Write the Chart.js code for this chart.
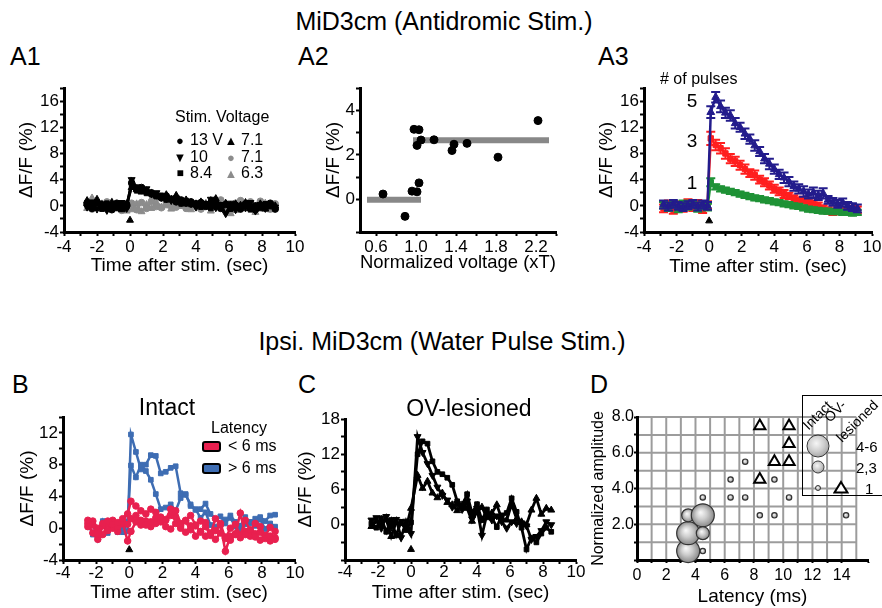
<!DOCTYPE html>
<html>
<head>
<meta charset="utf-8">
<script src="https://cdn.jsdelivr.net/npm/chart.js@4.4.1/dist/chart.umd.min.js"></script>
<style>
html, body { margin: 0; padding: 0; background: #fff; }
#fig { position: relative; width: 882px; height: 608px; overflow: hidden;
       font-family: "Liberation Sans", Arial, Helvetica, sans-serif; color: #000; }
#fig canvas { position: absolute; }
.t { position: absolute; line-height: 1; white-space: nowrap; z-index: 2; }
.c { transform: translate(-50%, -50%); }
.l { transform: translate(0, -50%); }
.r45 { transform: translate(-50%, -50%) rotate(-45deg); }
.sw { position: absolute; width: 19px; height: 11px; border: 2px solid #000; border-radius: 3px; box-sizing: border-box; z-index: 2; }
.bub { position: absolute; border-radius: 50%; border: 1.2px solid #333; box-sizing: border-box; z-index: 2;
       transform: translate(-50%, -50%);
       background: radial-gradient(circle at 42% 38%, #f6f6f6 0%, #cdcdcd 45%, #8a8a8a 100%); }
</style>
</head>
<body>
<div id="fig">
  <div class="t c" style="left:444px;top:21px;font-size:25px">MiD3cm (Antidromic Stim.)</div>
  <div class="t c" style="left:442px;top:341px;font-size:25px">Ipsi. MiD3cm (Water Pulse Stim.)</div>

  <div class="t l" style="left:10px;top:56px;font-size:25px">A1</div>
  <div class="t l" style="left:298px;top:56px;font-size:25px">A2</div>
  <div class="t l" style="left:598px;top:56px;font-size:25px">A3</div>
  <div class="t l" style="left:12px;top:384px;font-size:25px">B</div>
  <div class="t l" style="left:298px;top:384px;font-size:25px">C</div>
  <div class="t l" style="left:590px;top:384px;font-size:25px">D</div>

  <!-- A1 legend -->
  <div class="t l" style="left:175px;top:117px;font-size:16px">Stim. Voltage</div>
  <div class="t c" style="left:180px;top:140px;font-size:13px">●</div>
  <div class="t l" style="left:190px;top:140px;font-size:16px">13 V</div>
  <div class="t c" style="left:180px;top:157px;font-size:13px">▼</div>
  <div class="t l" style="left:190px;top:157px;font-size:16px">10</div>
  <div class="t c" style="left:180px;top:173px;font-size:12px">■</div>
  <div class="t l" style="left:190px;top:173px;font-size:16px">8.4</div>
  <div class="t c" style="left:231px;top:140px;font-size:13px">▲</div>
  <div class="t l" style="left:241px;top:140px;font-size:16px">7.1</div>
  <div class="t c" style="left:231px;top:157px;font-size:13px;color:#8c8c8c">●</div>
  <div class="t l" style="left:241px;top:157px;font-size:16px">7.1</div>
  <div class="t c" style="left:231px;top:173px;font-size:13px;color:#8c8c8c">▲</div>
  <div class="t l" style="left:241px;top:173px;font-size:16px">6.3</div>

  <!-- A3 labels -->
  <div class="t l" style="left:660px;top:79px;font-size:16px"># of pulses</div>
  <div class="t c" style="left:692px;top:100px;font-size:19px">5</div>
  <div class="t c" style="left:692px;top:140px;font-size:19px">3</div>
  <div class="t c" style="left:692px;top:182px;font-size:19px">1</div>

  <!-- B labels -->
  <div class="t c" style="left:167px;top:407px;font-size:23px">Intact</div>
  <div class="t c" style="left:239px;top:428px;font-size:16px">Latency</div>
  <div class="sw" style="left:202px;top:441px;background:#e8204f"></div>
  <div class="t l" style="left:228px;top:446px;font-size:16px">&lt; 6 ms</div>
  <div class="sw" style="left:202px;top:463px;background:#3e6db3"></div>
  <div class="t l" style="left:228px;top:468px;font-size:16px">&gt; 6 ms</div>

  <!-- C label -->
  <div class="t c" style="left:469px;top:408px;font-size:23px">OV-lesioned</div>

  <!-- D legend -->
  <div style="position:absolute;left:802px;top:395px;width:100px;height:101px;border:1.5px solid #000;box-sizing:border-box;z-index:2"></div>
  <div class="t r45" style="left:817px;top:415px;font-size:14px">Intact</div>
  <div class="t r45" style="left:835px;top:411px;font-size:14px">OV-</div>
  <div class="t r45" style="left:857px;top:421px;font-size:14px">lesioned</div>
  <div class="bub" style="left:818px;top:446px;width:23px;height:23px"></div>
  <div class="bub" style="left:818px;top:467px;width:13px;height:13px"></div>
  <div class="bub" style="left:818px;top:488px;width:6px;height:6px"></div>
  <svg class="t c" style="left:841px;top:487px" width="16" height="14"><polygon points="8,2 14.5,12.5 1.5,12.5" fill="#fff" stroke="#000" stroke-width="2"/></svg>
  <div class="t l" style="left:856px;top:446px;font-size:15px">4-6</div>
  <div class="t l" style="left:856px;top:467px;font-size:15px">2,3</div>
  <div class="t l" style="left:865px;top:488px;font-size:15px">1</div>
</div>

<script>
// ---------- data ----------
const timeTicks = [-4, -2, 0, 2, 4, 6, 8, 10];
const stimTime = [0];

// A1: traces at different stimulus voltages
const tA1 = [-2.6,-2.3,-2.0,-1.7,-1.4,-1.1,-0.8,-0.5,-0.2,
  0.1,0.4,0.7,1.0,1.3,1.6,1.9,2.2,2.5,2.8,
  3.1,3.4,3.7,4.0,4.3,4.6,4.9,5.2,5.5,5.8,
  6.1,6.4,6.7,7.0,7.3,7.6,7.9,8.2,8.5,8.8];
const a1V13 = [0.3,-0.4,0.5,-0.2,0.1,-0.6,0.4,-0.3,0.2,
  3.5,2.6,2.8,2.2,2.0,1.6,1.2,1.5,1.0,0.6,
  0.9,0.4,0.6,0.2,0.5,-0.1,0.3,0.0,-0.4,0.2,
  -0.3,0.1,-0.5,0.3,-0.2,-0.6,0.1,-0.3,0.4,-0.5];
const a1V10 = [-0.2,0.6,-0.5,0.3,-0.7,0.2,-0.1,0.5,-0.4,
  4.0,2.9,2.4,2.6,1.8,2.0,1.3,1.1,0.8,1.2,
  0.5,0.7,0.3,-0.2,0.4,0.1,1.0,-0.3,0.2,-1.2,
  0.4,-0.6,0.0,-0.3,0.5,-0.8,0.2,-0.4,0.1,-0.2];
const a1V84 = [0.5,0.0,0.3,-0.5,0.4,-0.2,-0.4,0.1,-0.1,
  3.0,2.3,2.7,1.9,1.7,1.4,1.6,0.9,1.1,0.7,
  0.3,0.8,0.2,0.4,-0.2,0.3,-0.4,0.5,-0.1,0.2,
  -0.5,0.0,-0.3,0.2,-0.6,0.1,-0.4,0.3,-0.1,-0.3];
const a1V71 = [0.8,-0.3,1.0,0.2,-0.4,0.5,0.0,-0.6,0.3,
  2.8,2.5,2.1,2.3,1.9,1.5,1.3,1.7,1.0,1.6,
  0.6,0.9,0.5,0.3,0.6,0.2,0.8,1.1,0.0,0.4,
  -0.2,0.3,0.1,0.5,-0.4,-0.1,0.3,-0.5,0.2,0.0];
const a1V71g = [0.2,-0.5,0.4,-0.3,0.6,-0.2,0.3,-0.7,-0.1,
  0.4,-0.6,0.5,-0.4,0.7,-0.1,-0.3,0.4,0.2,-0.2,
  0.1,-0.4,0.3,-0.1,-0.5,0.2,-0.3,0.3,0.9,-0.2,
  -0.6,0.4,0.8,-0.3,0.6,-0.4,0.7,0.1,-0.5,0.3];
const a1V63g = [-0.4,1.2,-0.2,0.3,-0.5,0.6,-0.3,0.2,-0.8,
  -0.6,0.3,-0.9,0.2,-0.4,0.5,-0.2,0.0,-0.5,0.3,
  -0.1,0.2,-0.6,0.1,-0.3,0.4,-0.8,-0.2,0.3,-0.5,
  -1.2,-0.7,0.2,-0.4,0.0,-1.0,-0.2,0.4,-0.6,-0.3];
const a1Arrow = [-2.2];
const a1YTicks = [-4, 0, 4, 8, 12, 16];

// A2: peak response vs normalized voltage
const a2X = [0.67,0.89,0.96,1.01,1.03,0.98,1.03,1.01,1.05,1.18,1.36,1.38,1.51,1.82,2.22];
const a2Y = [0.25,-0.75,0.38,0.35,0.75,3.15,3.13,2.43,2.67,2.68,2.20,2.48,2.52,1.90,3.54];
const a2MeanX0 = [0.51, 0.97];
const a2MeanX1 = [1.05, 2.33];
const a2MeanY = [0.0, 2.66];
const a2XTickVals = [0.6,0.8,1.0,1.2,1.4,1.6,1.8,2.0,2.2,2.4];
const a2XTicks = [0.6, 1.0, 1.4, 1.8, 2.2];
const a2YTicks = [0, 2, 4];

// A3: mean traces for 1, 3, 5 pulses (+ error)
const tA3 = [-2.8,-2.5,-2.2,-1.9,-1.6,-1.3,-1.0,-0.7,-0.4,-0.1,
  0.1,0.4,0.7,1.0,1.3,1.6,1.9,2.2,2.5,2.8,
  3.1,3.4,3.7,4.0,4.3,4.6,4.9,5.2,5.5,5.8,
  6.1,6.4,6.7,7.0,7.3,7.6,7.9,8.2,8.5,8.8,
  9.1];
const a3P5 = [0.2,-0.1,0.3,0.0,-0.2,0.1,0.3,-0.1,0.2,0.0,
  14.3,16.6,15.2,14.2,13.8,12.6,12.0,11.0,10.2,9.2,
  8.3,7.2,6.4,5.6,4.8,4.3,3.7,3.0,2.6,2.2,
  1.8,2.0,1.6,1.9,0.9,0.6,0.3,0.5,0.0,-0.2,
  -0.4];
const a3P3 = [-0.4,0.2,-0.6,0.1,-0.3,0.4,-0.2,0.3,-0.5,0.1,
  10.3,9.3,8.8,8.0,7.2,6.8,6.2,5.6,5.0,4.7,
  4.0,3.6,3.1,2.6,2.2,1.8,1.5,1.1,0.8,0.9,
  0.6,0.3,0.0,-0.4,-0.7,-0.9,-0.6,-0.8,-0.7,-0.5,
  -0.6];
const a3P1 = [0.1,-0.3,0.2,-0.5,0.3,-0.1,0.2,-0.4,0.0,-0.2,
  3.6,2.9,2.6,2.4,2.2,2.0,1.8,1.6,1.4,1.2,
  1.1,0.9,0.8,0.6,0.5,0.3,0.2,0.0,-0.1,-0.3,
  -0.5,-0.6,-0.7,-0.8,-0.8,-0.9,-0.9,-1.0,-1.0,-1.1,
  -1.0];
const a3E5 = [0.6,0.6,0.6,0.6,0.6,0.6,0.6,0.6,0.6,0.6,
  0.9,0.8,0.9,0.8,0.8,0.8,0.7,0.8,0.7,0.8,
  0.7,0.7,0.8,0.7,0.7,0.8,0.7,0.7,0.7,0.8,
  0.7,0.8,0.7,0.8,0.6,0.6,0.6,0.6,0.6,0.6,
  0.6];
const a3E3 = [0.6,0.6,0.6,0.6,0.6,0.6,0.6,0.6,0.6,0.6,
  1.0,0.8,0.8,0.8,0.7,0.7,0.7,0.7,0.6,0.7,
  0.6,0.6,0.6,0.6,0.6,0.6,0.5,0.5,0.5,0.5,
  0.5,0.5,0.5,0.5,0.5,0.5,0.5,0.5,0.5,0.5,
  0.5];
const a3E1 = [0.5,0.5,0.5,0.5,0.5,0.5,0.5,0.5,0.5,0.5,
  0.6,0.4,0.4,0.4,0.4,0.4,0.4,0.4,0.4,0.4,
  0.4,0.4,0.4,0.4,0.4,0.4,0.4,0.4,0.4,0.4,
  0.4,0.4,0.4,0.4,0.4,0.4,0.4,0.4,0.4,0.4,
  0.4];
const a3Arrow = [-2.3];

// B: intact, short vs long latency
const tB = [-2.5,-2.2,-1.9,-1.6,-1.3,-1.0,-0.7,-0.4,-0.1,
  0.1,0.4,0.7,1.0,1.3,1.6,1.9,2.2,2.5,2.8,
  3.1,3.4,3.7,4.0,4.3,4.6,4.9,5.2,5.5,5.8,
  6.1,6.4,6.7,7.0,7.3,7.6,7.9,8.2,8.5,8.8];
const bLong1 = [0.6,-0.8,-1.2,0.4,-0.3,0.8,-0.5,0.2,-0.4,
  11.8,9.6,7.4,8.0,9.2,9.1,6.9,7.1,7.6,7.8,
  4.4,4.2,3.0,2.3,2.4,3.1,1.8,1.2,1.5,0.6,
  1.6,0.8,0.3,1.4,0.6,1.2,1.4,0.9,1.6,1.7];
const bLong2 = [0.2,0.5,-1.4,0.9,-0.6,0.3,0.6,-0.5,0.8,
  7.9,6.4,8.0,7.2,6.1,4.3,2.4,2.6,3.0,2.2,
  3.8,4.3,2.8,2.4,1.3,2.0,0.4,0.2,0.6,1.1,
  1.3,0.2,-0.2,0.5,0.8,0.3,1.1,-0.1,0.6,0.2];
const bShort1 = [1.0,0.4,-0.8,0.6,0.9,0.5,0.7,1.2,1.8,
  3.4,2.8,2.2,1.8,2.4,2.0,1.4,1.0,1.6,2.2,
  0.6,0.9,-0.2,0.3,-0.5,-1.0,-0.6,-0.3,0.4,-2.9,
  -1.0,-0.7,1.9,-0.8,-0.2,-1.1,-0.5,-1.3,-1.0,-1.4];
const bShort2 = [0.6,-0.6,-1.4,0.3,-0.3,1.0,0.2,0.8,0.5,
  1.2,1.6,1.0,0.4,0.8,1.3,1.0,1.1,2.4,1.4,
  0.3,1.0,1.6,0.4,0.9,0.7,-0.8,1.2,0.6,-1.3,
  0.0,0.5,-0.9,1.0,-0.3,0.6,0.2,-1.0,0.1,-0.4];
const bShort3 = [0.2,0.9,0.0,-0.8,0.5,0.0,-0.4,0.6,-1.6,
  -0.4,0.8,0.4,0.9,0.2,0.6,0.8,0.2,-0.1,0.6,
  0.0,-0.5,0.3,-1.0,-0.4,0.2,-0.9,-1.4,-0.6,-1.1,
  -1.5,-0.8,-1.2,-0.4,-1.0,-0.7,-1.5,-0.9,-1.6,-1.2];
const bArrow = [-2.7];
const bYTicks = [-4, 0, 4, 8, 12];

// C: OV-lesioned
const tC = [-2.4,-2.1,-1.8,-1.5,-1.2,-0.9,-0.6,-0.3,0.0,
  0.4,0.7,1.0,1.3,1.6,1.9,2.2,2.5,2.8,3.1,
  3.4,3.7,4.0,4.3,4.6,4.9,5.2,5.5,5.8,6.1,
  6.4,6.7,7.0,7.3,7.6,7.9,8.2,8.5];
const cTr1 = [0.8,1.2,-0.6,1.4,-0.4,0.9,-2.2,0.6,-1.5,
  15.0,12.3,10.4,8.4,6.4,5.0,4.2,3.0,3.6,2.6,
  4.0,1.0,2.8,-1.8,1.8,0.8,1.5,0.5,-0.6,0.5,
  0.2,0.3,-0.2,-2.5,-2.0,-1.0,0.5,0.0];
const cTr2 = [0.2,-0.5,1.1,-1.2,0.8,-1.8,0.5,-0.9,0.4,
  12.0,14.2,13.8,10.8,9.0,8.6,8.0,6.8,4.0,3.2,
  5.2,2.0,3.5,0.8,2.6,1.2,-0.4,1.6,2.0,4.5,
  2.2,-0.5,-4.2,-2.2,-3.0,-1.5,-0.5,-1.2];
const cTr3 = [-0.3,0.6,0.0,0.9,-2.0,0.4,0.2,-0.6,2.8,
  8.4,6.2,7.4,5.4,4.6,5.4,3.8,3.4,2.4,3.4,
  2.8,0.6,2.2,3.0,1.2,2.0,3.4,1.0,0.8,3.5,
  1.0,0.5,0.0,2.5,4.5,1.8,2.8,2.5];
const cArrow = [-4.2];
const cYTicks = [0, 6, 12, 18];

// D: latency vs normalized amplitude
const dIntX = [3.5,3.5,3.5,4.5,4.5,4.5,4.5,6.4,6.4,7.4,7.4,8.4,9.4,9.4,10.4,14.3];
const dIntY = [0.5,1.5,2.5,2.5,1.5,0.5,3.5,3.5,4.5,3.5,5.5,2.5,2.5,4.5,3.5,2.5];
const dIntN = ['4-6','4-6','2,3','4-6','2,3','1','1','1','1','1','1','1','1','1','1','1'];
const dOvX = [8.4,10.4,10.4,9.4,10.4,8.4];
const dOvY = [7.5,7.5,6.5,5.5,5.5,4.5];
const dGridX = [1,2,3,4,5,6,7,8,9,10,11,12,13,14,15];
const dGridY = [1,2,3,4,5,6,7,8];
const dXTicks = [0,2,4,6,8,10,12,14];
const dYTicks = [2,4,6,8];

// ---------- helpers ----------
Chart.defaults.font.family = '"Liberation Sans", Arial, Helvetica, sans-serif';
Chart.defaults.color = '#000';

const fig = document.getElementById('fig');
const bubbleR = {'4-6': 11.5, '2,3': 6.5, '1': 2.7};

function tickLabel(v, list, dec) {
  const hit = list.some(l => Math.abs(l - v) < 1e-6);
  if (!hit) return '';
  return dec ? v.toFixed(dec) : String(Math.round(v));
}

function axis(pos, size, o) {
  const sc = {
    type: 'linear', position: pos, min: o.min, max: o.max,
    afterFit(s) {
      if (pos === 'bottom') s.height = size; else s.width = size;
      s.paddingLeft = 0; s.paddingRight = 0; s.paddingTop = 0; s.paddingBottom = 0;
    },
    border: { display: true, color: '#000', width: 3 },
    grid: { display: true, drawOnChartArea: false, drawTicks: true,
            tickLength: o.tl || 4, tickWidth: 2, tickColor: '#000' },
    ticks: { stepSize: o.step, autoSkip: false, maxRotation: 0, minRotation: 0,
             padding: o.pad !== undefined ? o.pad : 1, color: '#000',
             font: { size: o.fs || 17 },
             callback: v => tickLabel(v, o.labels, o.dec) },
    title: { display: true, text: o.title, color: '#000',
             font: { size: o.tfs || 19 }, padding: 0 }
  };
  if (o.values) sc.afterBuildTicks = s => { s.ticks = o.values.map(v => ({ value: v })); };
  return sc;
}

function makeChart(g, datasets, xOpt, yOpt, plugins) {
  const cv = document.createElement('canvas');
  const w = g.R - g.L + g.yw + g.pr;
  const h = g.B - g.T + g.pt + g.xh;
  cv.width = w; cv.height = h;
  cv.style.left = (g.L - g.yw) + 'px';
  cv.style.top = (g.T - g.pt) + 'px';
  cv.style.width = w + 'px';
  cv.style.height = h + 'px';
  fig.appendChild(cv);
  return new Chart(cv, {
    type: 'scatter',
    data: { datasets },
    options: {
      responsive: false, animation: false, devicePixelRatio: 1, events: [],
      layout: { padding: { left: 0, top: g.pt, right: g.pr, bottom: 0 } },
      plugins: { legend: { display: false }, tooltip: { enabled: false } },
      scales: { x: axis('bottom', g.xh, xOpt), y: axis('left', g.yw, yOpt) }
    },
    plugins: plugins || []
  });
}

function trace(t, v, color, style, r, extra) {
  return Object.assign({
    data: t.map((x, i) => ({ x, y: v[i] })),
    showLine: true, borderColor: color, backgroundColor: color, borderWidth: 2.5,
    pointStyle: style, pointRadius: r, pointBorderWidth: 1,
    pointBackgroundColor: color, pointBorderColor: color
  }, extra || {});
}

function arrow(level) {
  return {
    data: stimTime.map((x, i) => ({ x, y: level[i] })),
    showLine: false, pointStyle: 'triangle', pointRadius: 4,
    backgroundColor: '#000', borderColor: '#000', pointBorderWidth: 1
  };
}

// error bars drawn through the y scale
const errorBars = {
  id: 'errorBars',
  afterDatasetDraw(chart, args) {
    const ds = chart.data.datasets[args.index];
    if (!ds.errors) return;
    const ys = chart.scales.y, ctx = chart.ctx;
    ctx.save();
    ctx.strokeStyle = ds.borderColor;
    ctx.lineWidth = 2;
    args.meta.data.forEach((pt, i) => {
      const v = ds.data[i].y, e = ds.errors[i];
      const y1 = ys.getPixelForValue(v + e), y2 = ys.getPixelForValue(v - e);
      ctx.beginPath();
      ctx.moveTo(pt.x, y1); ctx.lineTo(pt.x, y2);
      ctx.moveTo(pt.x - 4.5, y1); ctx.lineTo(pt.x + 4.5, y1);
      ctx.moveTo(pt.x - 4.5, y2); ctx.lineTo(pt.x + 4.5, y2);
      ctx.stroke();
    });
    ctx.restore();
  }
};

// grid of panel D, limited to 0..15 x 0..8
const dGrid = {
  id: 'dGrid',
  beforeDraw(chart) {
    const { ctx } = chart, x = chart.scales.x, y = chart.scales.y;
    ctx.save();
    ctx.strokeStyle = '#9c9c9c';
    ctx.lineWidth = 2;
    dGridX.forEach(v => {
      const px = x.getPixelForValue(v);
      ctx.beginPath();
      ctx.moveTo(px, y.getPixelForValue(0));
      ctx.lineTo(px, y.getPixelForValue(dGridY[dGridY.length - 1]));
      ctx.stroke();
    });
    dGridY.forEach(v => {
      const py = y.getPixelForValue(v);
      ctx.beginPath();
      ctx.moveTo(x.getPixelForValue(0), py);
      ctx.lineTo(x.getPixelForValue(dGridX[dGridX.length - 1]), py);
      ctx.stroke();
    });
    ctx.restore();
  }
};

// shaded sphere fill for the intact bubbles
function sphereFill(ctx) {
  const fallback = '#c4c4c4';
  if (ctx.type !== 'data' || !ctx.raw) return fallback;
  const ch = ctx.chart, p = ctx.raw;
  const px = ch.scales.x.getPixelForValue(p.x), py = ch.scales.y.getPixelForValue(p.y);
  if (!isFinite(px) || !isFinite(py) || !isFinite(p.r)) return fallback;
  const g = ch.ctx.createRadialGradient(px - p.r * 0.2, py - p.r * 0.25, p.r * 0.05, px, py, p.r);
  g.addColorStop(0, '#f6f6f6');
  g.addColorStop(0.45, '#cdcdcd');
  g.addColorStop(1, '#8a8a8a');
  return g;
}

// ---------- A1 ----------
const BLK = '#000', GRY = '#8c8c8c';
makeChart({ L: 64, R: 295, T: 88, B: 232, yw: 49, xh: 45, pt: 14, pr: 12 }, [
  arrow(a1Arrow),
  trace(tA1, a1V13, BLK, 'circle', 3.3),
  trace(tA1, a1V10, BLK, 'triangle', 4, { pointRotation: 180 }),
  trace(tA1, a1V84, BLK, 'rect', 3.3),
  trace(tA1, a1V71, BLK, 'triangle', 4),
  trace(tA1, a1V71g, GRY, 'circle', 3.3),
  trace(tA1, a1V63g, GRY, 'triangle', 4)
],
{ min: -4, max: 10, step: 1, labels: timeTicks, title: 'Time after stim. (sec)', pad: 1 },
{ min: -4, max: 18, step: 2, labels: a1YTicks, title: 'ΔF/F (%)', pad: 1 });

// ---------- A2 ----------
makeChart({ L: 360, R: 556, T: 88, B: 232, yw: 38, xh: 42, pt: 14, pr: 12 }, [
  { data: a2X.map((x, i) => ({ x, y: a2Y[i] })), showLine: false, pointStyle: 'circle',
    pointRadius: 4, backgroundColor: '#000', borderColor: '#000' },
  ...a2MeanY.map((y, i) => ({
    data: [{ x: a2MeanX0[i], y }, { x: a2MeanX1[i], y }], showLine: true,
    borderColor: '#888', borderWidth: 6, pointRadius: 0, borderCapStyle: 'butt'
  }))
],
{ min: 0.44, max: 2.4, values: a2XTickVals, labels: a2XTicks, dec: 1, title: 'Normalized voltage (xT)', pad: 1 },
{ min: -1.45, max: 5, step: 1, labels: a2YTicks, title: 'ΔF/F (%)', pad: 1 });

// ---------- A3 ----------
const NAVY = '#231c8c', RED = '#ff1f1f', GREEN = '#1f9236';
makeChart({ L: 644, R: 872, T: 88, B: 232, yw: 49, xh: 46, pt: 14, pr: 10 }, [
  arrow(a3Arrow),
  trace(tA3, a3P5, NAVY, 'triangle', 4.5, { errors: a3E5 }),
  trace(tA3, a3P1, GREEN, 'rect', 3.8, { errors: a3E1 }),
  trace(tA3, a3P3, RED, 'rect', 3.8, { errors: a3E3 })
],
{ min: -4, max: 10, step: 1, labels: timeTicks, title: 'Time after stim. (sec)', pad: 1 },
{ min: -4, max: 18, step: 2, labels: a1YTicks, title: 'ΔF/F (%)', pad: 1 },
[errorBars]);

// ---------- B ----------
const BRED = '#e8204f', BBLUE = '#3e6db3';
makeChart({ L: 63, R: 295, T: 417, B: 560, yw: 47, xh: 44, pt: 14, pr: 12 }, [
  arrow(bArrow),
  trace(tB, bShort1, BRED, 'circle', 3.3),
  trace(tB, bShort2, BRED, 'circle', 3.3),
  trace(tB, bShort3, BRED, 'circle', 3.3),
  trace(tB, bLong1, BBLUE, 'rect', 3.3),
  trace(tB, bLong2, BBLUE, 'rect', 3.3)
],
{ min: -4, max: 10, step: 1, labels: timeTicks, title: 'Time after stim. (sec)', pad: -1 },
{ min: -4, max: 14, step: 2, labels: bYTicks, title: 'ΔF/F (%)', pad: 1 });

// ---------- C ----------
makeChart({ L: 345, R: 576, T: 419, B: 560, yw: 51, xh: 44, pt: 14, pr: 12 }, [
  arrow(cArrow),
  trace(tC, cTr1, BLK, 'triangle', 4, { pointRotation: 180, borderWidth: 2.8 }),
  trace(tC, cTr2, BLK, 'rect', 3.3, { borderWidth: 2.8 }),
  trace(tC, cTr3, BLK, 'triangle', 4, { borderWidth: 2.8 })
],
{ min: -4, max: 10, step: 1, labels: timeTicks, title: 'Time after stim. (sec)', pad: -2 },
{ min: -6, max: 18, step: 3, labels: cYTicks, title: 'ΔF/F (%)', pad: 1 });

// ---------- D ----------
makeChart({ L: 637, R: 868, T: 417, B: 560, yw: 48, xh: 48, pt: 14, pr: 14 }, [
  { type: 'bubble', clip: false,
    data: dIntX.map((x, i) => ({ x, y: dIntY[i], r: bubbleR[dIntN[i]] })),
    borderColor: '#333', borderWidth: 1.2,
    backgroundColor: sphereFill
  },
  { data: dOvX.map((x, i) => ({ x, y: dOvY[i] })), showLine: false, clip: false,
    pointStyle: 'triangle', pointRadius: 6.5, pointBorderWidth: 2,
    borderColor: '#000', backgroundColor: '#fff' }
],
{ min: 0, max: 15.8, step: 1, labels: dXTicks, title: 'Latency (ms)', pad: 3, tl: 3, fs: 16 },
{ min: 0, max: 8, step: 1, labels: dYTicks, dec: 1, title: 'Normalized amplitude', pad: 0, tl: 3, fs: 16, tfs: 16 },
[dGrid]);
</script>
</body>
</html>
